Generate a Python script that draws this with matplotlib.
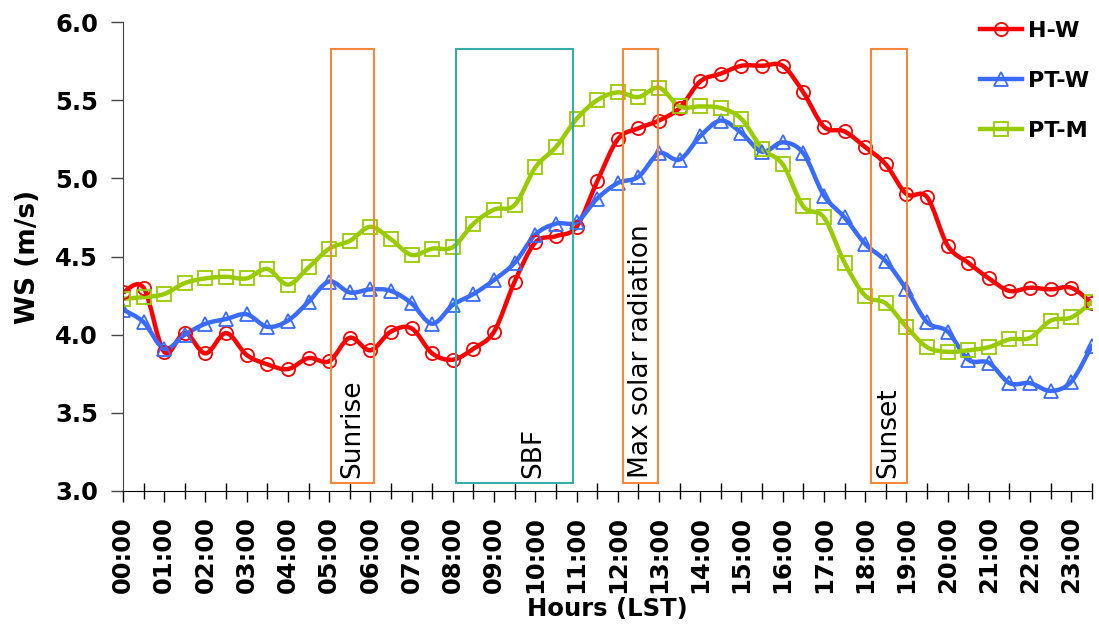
import numpy as np
import matplotlib.pyplot as plt
from matplotlib.path import Path
from matplotlib.patches import PathPatch, Rectangle
from matplotlib.lines import Line2D

# half-hourly categories 00:00 .. 23:30
hours = np.arange(0, 24, 0.5)
hour_labels = ["%02d:00" % h for h in range(24)]

# wind speed (m/s)
hw = [4.27, 4.30, 3.89, 4.01, 3.88, 4.01, 3.87, 3.81, 3.78, 3.85, 3.83, 3.98,
      3.90, 4.02, 4.04, 3.88, 3.84, 3.91, 4.02, 4.34, 4.59, 4.63, 4.69, 4.98,
      5.25, 5.32, 5.37, 5.45, 5.62, 5.67, 5.72, 5.72, 5.72, 5.55, 5.33, 5.30,
      5.20, 5.09, 4.90, 4.88, 4.57, 4.46, 4.36, 4.28, 4.30, 4.29, 4.30, 4.20]
ptw = [4.16, 4.08, 3.91, 4.00, 4.07, 4.10, 4.13, 4.05, 4.09, 4.21, 4.34, 4.27,
       4.29, 4.28, 4.20, 4.07, 4.19, 4.26, 4.35, 4.46, 4.64, 4.71, 4.72, 4.87,
       4.97, 5.01, 5.16, 5.12, 5.27, 5.37, 5.29, 5.17, 5.23, 5.16, 4.89, 4.75,
       4.58, 4.47, 4.29, 4.08, 4.02, 3.84, 3.82, 3.69, 3.69, 3.64, 3.70, 3.93]
ptm = [4.23, 4.24, 4.26, 4.33, 4.36, 4.37, 4.36, 4.42, 4.32, 4.43, 4.55, 4.60,
       4.69, 4.61, 4.51, 4.55, 4.56, 4.71, 4.80, 4.83, 5.07, 5.20, 5.38, 5.50,
       5.55, 5.52, 5.58, 5.46, 5.46, 5.45, 5.38, 5.19, 5.09, 4.82, 4.75, 4.46,
       4.25, 4.20, 4.05, 3.92, 3.89, 3.90, 3.92, 3.97, 3.98, 4.09, 4.11, 4.21]

series = [("H-W", hw, "#FF0000", "o"),
          ("PT-W", ptw, "#3A6BFF", "^"),
          ("PT-M", ptm, "#99CC00", "s")]

# event boxes: label, start, end, text x, colour
events = [("Sunrise", 5.05, 6.09, 5.57, "#F7883A"),
          ("SBF", 8.08, 10.91, 9.95, "#35ABAA"),
          ("Max solar radiation", 12.13, 12.98, 12.56, "#F7883A"),
          ("Sunset", 18.14, 19.02, 18.57, "#F7883A")]
box_bottom, box_top = 3.05, 5.83


def smooth_path(x, y):
    # Excel-like smoothed line (cardinal spline as cubic beziers)
    pts = np.column_stack([x, y])
    n = len(pts)
    verts = [pts[0]]
    codes = [Path.MOVETO]
    for i in range(n - 1):
        p0 = pts[i - 1] if i > 0 else pts[i]
        p1 = pts[i]
        p2 = pts[i + 1]
        p3 = pts[i + 2] if i + 2 < n else pts[i + 1]
        verts += [p1 + (p2 - p0) / 6, p2 - (p3 - p1) / 6, p2]
        codes += [Path.CURVE4] * 3
    return Path(verts, codes)


fig = plt.figure(figsize=(10.99, 6.31), dpi=100)
ax = fig.add_axes([0.1119, 0.2219, 0.8817, 0.7432])

handles = []
for name, vals, col, mk in series:
    ax.add_patch(PathPatch(smooth_path(hours, vals), fill=False, ec=col, lw=3.2,
                           capstyle="round", joinstyle="round"))
    ax.plot(hours, vals, ls="none", marker=mk, ms=9.5, mfc="none", mec=col, mew=1.3)
    handles.append(Line2D([], [], color=col, lw=3.2, marker=mk, ms=9.5,
                          mfc="none", mec=col, mew=1.3))

for label, x0, x1, tx, col in events:
    ax.add_patch(Rectangle((x0, box_bottom), x1 - x0, box_top - box_bottom,
                           fill=False, ec=col, lw=1.5, zorder=5))
    ax.text(tx, box_bottom + 0.03, label, rotation=90, ha="center", va="bottom",
            fontsize=19, family="DejaVu Sans", zorder=6)

ax.set_xlim(0, 23.5)
ax.set_ylim(3, 6)
ax.spines["top"].set_visible(False)
ax.spines["right"].set_visible(False)
ax.spines["left"].set_color("#444444")

ax.set_xticks(np.arange(24))
ax.set_xticklabels(hour_labels, rotation=90, fontsize=17.5, fontweight="bold")
ax.set_xticks(hours, minor=True)
ax.tick_params(axis="x", which="major", direction="out", length=8, width=1, pad=10)
ax.tick_params(axis="x", which="minor", direction="inout", length=12, width=1)
ax.set_yticks(np.arange(3, 6.01, 0.5))
ax.set_yticklabels(["%.1f" % v for v in np.arange(3, 6.01, 0.5)], fontsize=17.5,
                   fontweight="bold")
ax.tick_params(axis="y", direction="out", length=9, width=1, color="#444444", pad=9)

ax.set_xlabel("Hours (LST)", fontsize=17.5, fontweight="bold", labelpad=3)
ax.set_ylabel("WS (m/s)", fontsize=19, fontweight="bold", labelpad=10)

fig.legend(handles, [s[0] for s in series], loc="upper left",
           bbox_to_anchor=(0.882, 0.985), frameon=False, handlelength=1.85,
           handletextpad=0.3, labelspacing=1.35, borderpad=0,
           prop={"size": 16, "weight": "bold"})

fig.savefig("out.png", dpi=100)
